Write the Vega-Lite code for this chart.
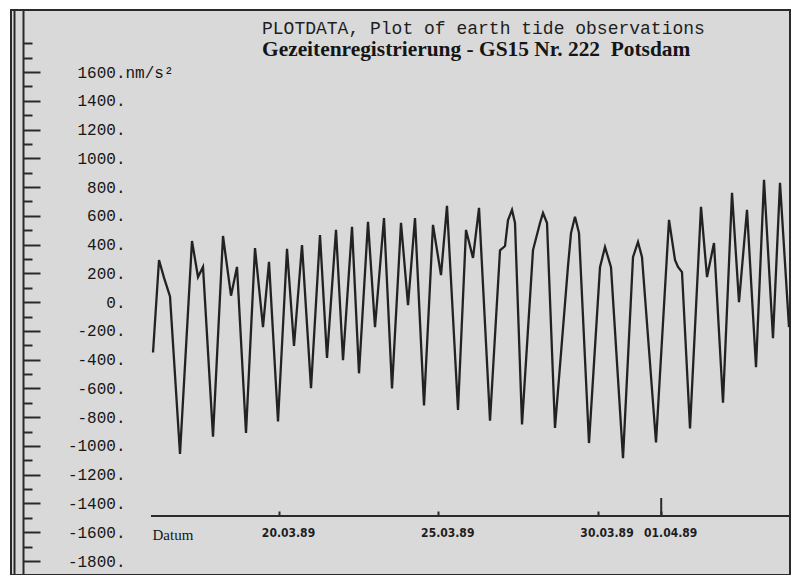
{
  "$schema": "https://vega.github.io/schema/vega-lite/v6.json",
  "width": 779,
  "height": 565,
  "autosize": {"type": "none"},
  "padding": {"left": 11, "top": 10, "right": 3, "bottom": 0},
  "background": "white",
  "config": {
    "view": {"fill": "#d9d9d9", "stroke": "#2a2a2a", "strokeWidth": 2}
  },
  "title": {
    "text": "PLOTDATA, Plot of earth tide observations",
    "subtitle": "Gezeitenregistrierung - GS15 Nr. 222\u00a0 Potsdam",
    "anchor": "start",
    "frame": "group",
    "dx": 251,
    "offset": -50,
    "font": "Liberation Mono",
    "fontSize": 18,
    "fontWeight": "normal",
    "color": "#1e1e1e",
    "subtitleFont": "Liberation Serif",
    "subtitleFontSize": 21.4,
    "subtitleFontWeight": "bold",
    "subtitleColor": "#151515",
    "subtitlePadding": 1
  },
  "datasets": {
    "tide": [
      {"t": "1989-03-16T01:04:00Z", "g": -350},
      {"t": "1989-03-16T05:35:00Z", "g": 293},
      {"t": "1989-03-16T09:20:00Z", "g": 170},
      {"t": "1989-03-16T13:52:00Z", "g": 40},
      {"t": "1989-03-16T21:24:00Z", "g": -1055},
      {"t": "1989-03-17T06:26:00Z", "g": 425},
      {"t": "1989-03-17T10:58:00Z", "g": 175},
      {"t": "1989-03-17T14:44:00Z", "g": 245},
      {"t": "1989-03-17T22:16:00Z", "g": -935},
      {"t": "1989-03-18T05:48:00Z", "g": 460},
      {"t": "1989-03-18T11:50:00Z", "g": 45},
      {"t": "1989-03-18T16:21:00Z", "g": 245},
      {"t": "1989-03-18T23:08:00Z", "g": -910},
      {"t": "1989-03-19T05:55:00Z", "g": 376},
      {"t": "1989-03-19T11:56:00Z", "g": -174},
      {"t": "1989-03-19T16:28:00Z", "g": 280},
      {"t": "1989-03-19T23:15:00Z", "g": -830},
      {"t": "1989-03-20T06:02:00Z", "g": 370},
      {"t": "1989-03-20T11:18:00Z", "g": -305},
      {"t": "1989-03-20T17:20:00Z", "g": 397},
      {"t": "1989-03-21T00:07:00Z", "g": -598},
      {"t": "1989-03-21T06:53:00Z", "g": 467},
      {"t": "1989-03-21T12:10:00Z", "g": -388},
      {"t": "1989-03-21T18:57:00Z", "g": 502},
      {"t": "1989-03-22T00:14:00Z", "g": -404},
      {"t": "1989-03-22T07:01:00Z", "g": 523},
      {"t": "1989-03-22T12:17:00Z", "g": -495},
      {"t": "1989-03-22T19:04:00Z", "g": 558},
      {"t": "1989-03-23T00:20:00Z", "g": -174},
      {"t": "1989-03-23T07:07:00Z", "g": 585},
      {"t": "1989-03-23T13:09:00Z", "g": -600},
      {"t": "1989-03-23T19:56:00Z", "g": 551},
      {"t": "1989-03-24T01:13:00Z", "g": -21},
      {"t": "1989-03-24T06:29:00Z", "g": 585},
      {"t": "1989-03-24T13:16:00Z", "g": -718},
      {"t": "1989-03-24T20:02:00Z", "g": 537},
      {"t": "1989-03-25T02:04:00Z", "g": 188},
      {"t": "1989-03-25T06:35:00Z", "g": 669},
      {"t": "1989-03-25T14:53:00Z", "g": -750},
      {"t": "1989-03-25T20:55:00Z", "g": 502},
      {"t": "1989-03-26T02:11:00Z", "g": 307},
      {"t": "1989-03-26T06:43:00Z", "g": 655},
      {"t": "1989-03-26T15:00:00Z", "g": -825},
      {"t": "1989-03-26T22:32:00Z", "g": 360},
      {"t": "1989-03-27T02:18:00Z", "g": 390},
      {"t": "1989-03-27T04:34:00Z", "g": 570},
      {"t": "1989-03-27T07:34:00Z", "g": 641},
      {"t": "1989-03-27T09:50:00Z", "g": 550},
      {"t": "1989-03-27T15:07:00Z", "g": -850},
      {"t": "1989-03-27T23:24:00Z", "g": 362},
      {"t": "1989-03-28T04:40:00Z", "g": 550},
      {"t": "1989-03-28T06:56:00Z", "g": 620},
      {"t": "1989-03-28T09:57:00Z", "g": 550},
      {"t": "1989-03-28T15:58:00Z", "g": -875},
      {"t": "1989-03-29T01:46:00Z", "g": 250},
      {"t": "1989-03-29T04:02:00Z", "g": 480},
      {"t": "1989-03-29T07:02:00Z", "g": 593},
      {"t": "1989-03-29T10:04:00Z", "g": 480},
      {"t": "1989-03-29T17:35:00Z", "g": -980},
      {"t": "1989-03-30T01:53:00Z", "g": 243},
      {"t": "1989-03-30T05:39:00Z", "g": 383},
      {"t": "1989-03-30T10:10:00Z", "g": 243},
      {"t": "1989-03-30T19:13:00Z", "g": -1085},
      {"t": "1989-03-31T02:45:00Z", "g": 313},
      {"t": "1989-03-31T06:31:00Z", "g": 418},
      {"t": "1989-03-31T09:32:00Z", "g": 313},
      {"t": "1989-03-31T20:05:00Z", "g": -976},
      {"t": "1989-04-01T05:53:00Z", "g": 572},
      {"t": "1989-04-01T10:24:00Z", "g": 293},
      {"t": "1989-04-01T12:40:00Z", "g": 245},
      {"t": "1989-04-01T15:40:00Z", "g": 209},
      {"t": "1989-04-01T21:42:00Z", "g": -878},
      {"t": "1989-04-02T05:59:00Z", "g": 662},
      {"t": "1989-04-02T10:31:00Z", "g": 174},
      {"t": "1989-04-02T15:47:00Z", "g": 411},
      {"t": "1989-04-02T22:34:00Z", "g": -700},
      {"t": "1989-04-03T05:21:00Z", "g": 760},
      {"t": "1989-04-03T10:37:00Z", "g": 0},
      {"t": "1989-04-03T16:39:00Z", "g": 641},
      {"t": "1989-04-03T23:26:00Z", "g": -453},
      {"t": "1989-04-04T05:28:00Z", "g": 850},
      {"t": "1989-04-04T12:14:00Z", "g": -251},
      {"t": "1989-04-04T17:31:00Z", "g": 829},
      {"t": "1989-04-05T00:18:00Z", "g": -174}
    ]
  },
  "resolve": {"axis": {"y": "independent", "x": "shared"}, "scale": {"x": "shared", "y": "shared"}},
  "layer": [
    {
      "data": {"name": "tide"},
      "mark": {"type": "line", "stroke": "#222222", "strokeWidth": 2.3, "interpolate": "linear"},
      "encoding": {
        "x": {
          "field": "t",
          "type": "temporal",
          "scale": {"type": "utc", "domain": [605628180000, 607741380000], "nice": false},
          "axis": {
            "orient": "bottom",
            "offset": -59,
            "values": [606355200000, 606787200000, 607219200000, 607392000000],
            "labelExpr": "utcFormat(datum.value, '%d.%m.%y')",
            "domain": false,
            "grid": false,
            "ticks": true,
            "tickSize": -5,
            "tickWidth": 2,
            "tickColor": "#2a2a2a",
            "labelPadding": 16,
            "labelAlign": "center",
            "labelOffset": 9,
            "labelFlush": false,
            "labelOverlap": false,
            "labelFont": "DejaVu Sans Condensed, Liberation Sans",
            "labelFontSize": 12,
            "labelFontWeight": "bold",
            "labelColor": "#1e1e1e",
            "title": "Datum",
            "titleX": 141,
            "titleY": 11,
            "titleAlign": "left",
            "titleBaseline": "top",
            "titleAngle": 0,
            "titleFont": "Liberation Serif",
            "titleFontSize": 15,
            "titleFontWeight": "normal",
            "titleColor": "#161616"
          }
        },
        "y": {
          "field": "g",
          "type": "quantitative",
          "scale": {"domain": [-1897.3, 2031.1], "nice": false, "zero": false},
          "axis": {
            "orient": "left",
            "offset": -12,
            "values": [-1800, -1600, -1400, -1200, -1000, -800, -600, -400, -200, 0, 200, 400, 600, 800, 1000, 1200, 1400, 1600],
            "labelExpr": "datum.value + '.'",
            "grid": false,
            "domain": true,
            "domainColor": "#2a2a2a",
            "domainWidth": 2,
            "ticks": true,
            "tickSize": -17,
            "tickWidth": 2,
            "tickColor": "#2a2a2a",
            "labelPadding": -85,
            "labelAlign": "right",
            "labelBaseline": "middle",
            "labelOverlap": false,
            "labelFlush": false,
            "labelFont": "Liberation Mono",
            "labelFontSize": 16,
            "labelColor": "#161616",
            "title": "nm/s\u00b2",
            "titleX": 102,
            "titleY": 62,
            "titleAngle": 0,
            "titleAlign": "left",
            "titleBaseline": "middle",
            "titleFont": "Liberation Mono",
            "titleFontSize": 16,
            "titleFontWeight": "normal",
            "titleColor": "#161616"
          }
        }
      }
    },
    {
      "data": {"values": [{}]},
      "mark": {"type": "rule", "stroke": "#2a2a2a", "strokeWidth": 2},
      "encoding": {
        "x": {"datum": 606007980000, "type": "temporal"},
        "x2": {"datum": 607741380000},
        "y": {
          "datum": -1487,
          "type": "quantitative",
          "axis": {
            "orient": "left",
            "offset": -12,
            "values": [-1900, -1700, -1500, -1300, -1100, -900, -700, -500, -300, -100, 100, 300, 500, 700, 900, 1100, 1300, 1500, 1700, 1800],
            "grid": false,
            "domain": false,
            "labels": false,
            "ticks": true,
            "tickSize": -9,
            "tickWidth": 2,
            "tickColor": "#2a2a2a",
            "title": null
          }
        }
      }
    },
    {
      "data": {"values": [{}]},
      "mark": {"type": "rule", "stroke": "#2a2a2a", "strokeWidth": 2},
      "encoding": {
        "x": {"datum": 607392000000, "type": "temporal"},
        "y": {
          "datum": -1487,
          "type": "quantitative",
          "axis": {
            "orient": "left",
            "offset": -3,
            "grid": false,
            "domain": true,
            "domainColor": "#2a2a2a",
            "domainWidth": 2,
            "labels": false,
            "ticks": false,
            "title": null
          }
        },
        "y2": {"datum": -1362}
      }
    }
  ]
}
